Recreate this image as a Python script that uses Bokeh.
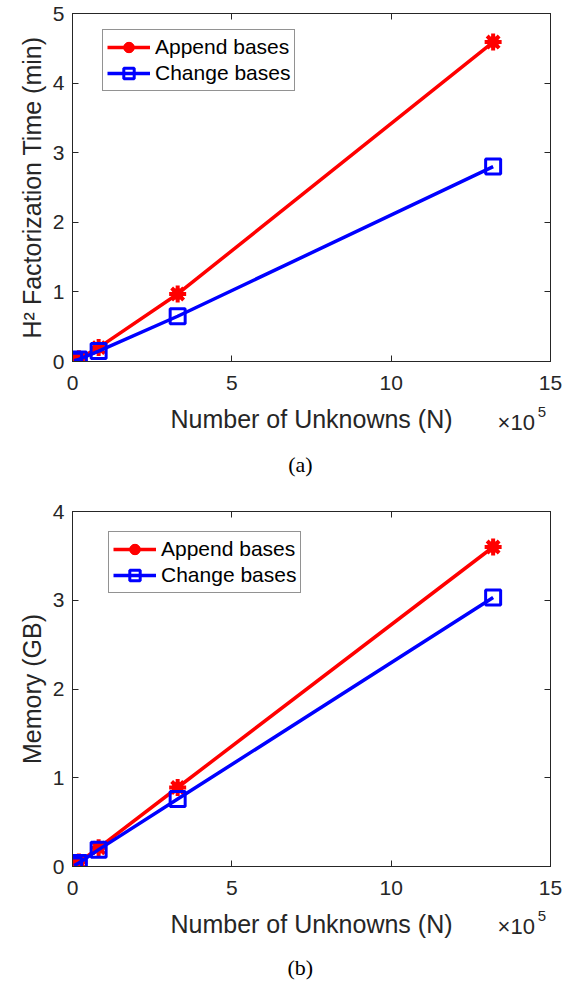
from bokeh.plotting import figure
from bokeh.models import Range1d, LinearAxis, FixedTicker, Legend, LegendItem, Label
from bokeh.layouts import column
from bokeh.embed import file_html
from bokeh.resources import INLINE

# ---- data ----
n_unknowns_e5 = [0.05, 0.2, 0.82, 3.3, 13.2]          # Number of unknowns (x 10^5)
time_append = [0.01, 0.04, 0.20, 0.97, 4.59]          # H^2 factorization time (min)
time_change = [0.01, 0.03, 0.15, 0.65, 2.80]
mem_append = [0.01, 0.05, 0.21, 0.89, 3.60]           # Memory (GB)
mem_change = [0.01, 0.04, 0.19, 0.76, 3.03]

x_ticks = [0, 5, 10, 15]
y_ticks_a = [0, 1, 2, 3, 4, 5]
y_ticks_b = [0, 1, 2, 3, 4]
series_names = ["Append bases", "Change bases"]
x_label = "Number of Unknowns (N)"

AX = "#262626"
SANS = "Liberation Sans"
SERIF = "Liberation Serif"


def make_panel(ys_app, ys_chg, ylab, yticks, ymax, height, frame_h, top, leg_y,
               leg_x, caption, px_per_unit, exp_px, sup_px, cap_px):
    p = figure(width=579, height=height, output_backend="svg", toolbar_location=None,
               x_range=Range1d(0, 15), y_range=Range1d(0, ymax),
               min_border_left=72, min_border_right=29, min_border_top=top,
               min_border_bottom=height - top - frame_h)
    p.grid.visible = False
    p.outline_line_color = AX
    p.outline_line_width = 1
    p.background_fill_color = "white"
    p.border_fill_color = "white"

    for ax in (p.xaxis[0], p.yaxis[0]):
        ax.axis_line_color = AX
        ax.major_tick_line_color = AX
        ax.major_tick_in = 6
        ax.major_tick_out = 0
        ax.minor_tick_line_color = None
        ax.major_label_text_font = SANS
        ax.major_label_text_font_size = "21px"
        ax.major_label_text_color = AX
        ax.axis_label_text_font = SANS
        ax.axis_label_text_font_size = "25px"
        ax.axis_label_text_font_style = "normal"
        ax.axis_label_text_color = AX
    p.xaxis.ticker = FixedTicker(ticks=x_ticks)
    p.yaxis.ticker = FixedTicker(ticks=yticks)
    p.xaxis.axis_label = x_label
    p.yaxis.axis_label = ylab
    p.xaxis.major_label_standoff = 14
    p.xaxis.axis_label_standoff = 12
    p.yaxis.major_label_standoff = 8
    p.yaxis.axis_label_standoff = 4

    # box-style ticks on top and right (no labels drawn)
    for loc, tk in (("above", x_ticks), ("right", yticks)):
        ax = LinearAxis(ticker=FixedTicker(ticks=tk), axis_line_color=AX,
                        major_tick_line_color=AX, major_tick_in=6, major_tick_out=0,
                        minor_tick_line_color=None, major_label_text_font_size="1px",
                        major_label_text_color=None, major_label_standoff=0)
        p.add_layout(ax, loc)

    r1 = p.line(n_unknowns_e5, ys_app, line_color="red", line_width=3.5)
    m1 = p.scatter(n_unknowns_e5, ys_app, marker="asterisk", size=17,
                   line_color="red", line_width=4)
    m1b = p.scatter(n_unknowns_e5, ys_app, marker="circle", size=11,
                    line_color="red", fill_color="red")
    r2 = p.line(n_unknowns_e5, ys_chg, line_color="blue", line_width=3.5)
    m2 = p.scatter(n_unknowns_e5, ys_chg, marker="square", size=15,
                   line_color="blue", fill_color=None, line_width=3)

    legend = Legend(items=[LegendItem(label=series_names[0], renderers=[r1, m1, m1b]),
                           LegendItem(label=series_names[1], renderers=[r2, m2])],
                    location=(leg_x, leg_y), padding=4, spacing=0, margin=0,
                    glyph_width=43, glyph_height=26, label_standoff=5,
                    label_text_font=SANS, label_text_font_size="21px",
                    label_text_color="black", border_line_color=AX,
                    border_line_width=1, background_fill_alpha=1)
    p.add_layout(legend)

    # exponent "x10^5" beside the x-axis label, and the panel caption
    p.add_layout(Label(x=13.34, y=-exp_px / px_per_unit, text="×10", text_font=SANS,
                       text_font_size="22px", text_color=AX,
                       text_baseline="alphabetic"), "below")
    p.add_layout(Label(x=14.6, y=-sup_px / px_per_unit, text="5", text_font=SANS,
                       text_font_size="15px", text_color=AX,
                       text_baseline="alphabetic"), "left")
    p.add_layout(Label(x=7.15, y=-cap_px / px_per_unit, text=caption, text_font=SERIF,
                       text_font_size="22px", text_color="black",
                       text_align="center", text_baseline="middle"), "right")
    return p


pa = make_panel(time_append, time_change, "H² Factorization Time (min)", y_ticks_a, 5,
                height=501, frame_h=348, top=13, leg_y=270, leg_x=30, caption="(a)",
                px_per_unit=348 / 5, exp_px=61, sup_px=50, cap_px=103)
pb = make_panel(mem_append, mem_change, "Memory (GB)", y_ticks_b, 4,
                height=481, frame_h=355, top=10, leg_y=273, leg_x=36, caption="(b)",
                px_per_unit=355 / 4, exp_px=60, sup_px=49, cap_px=101)

layout = column(pa, pb, spacing=0)
open("out.html", "w").write(file_html(layout, INLINE))
